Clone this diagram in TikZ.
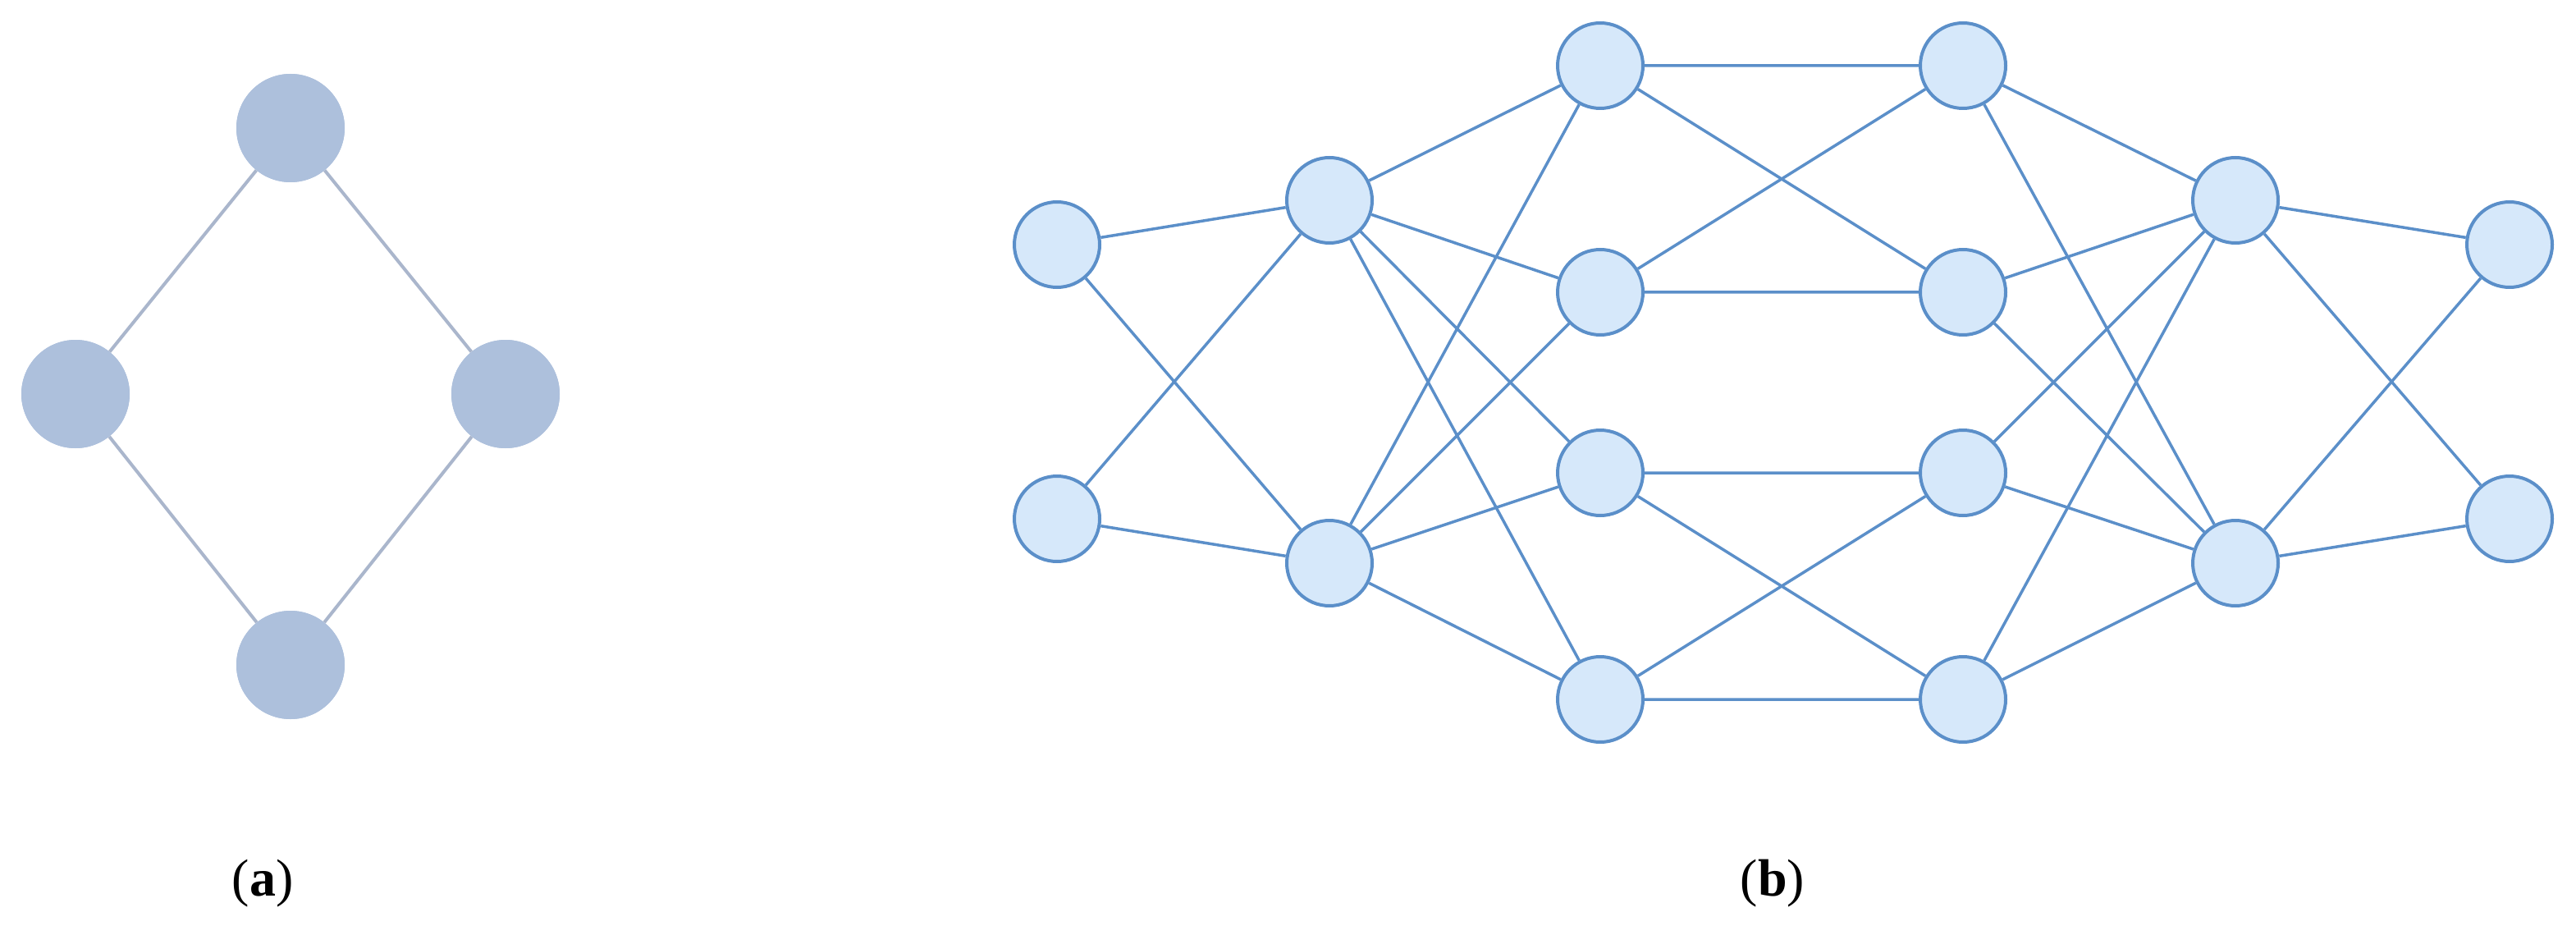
\documentclass[tikz,border=0pt]{standalone}
\usepackage{fontspec}
\setmainfont{Liberation Serif}
\definecolor{afill}{HTML}{ADC0DC}
\definecolor{aedge}{HTML}{AAB6CC}
\definecolor{bfill}{HTML}{D6E8FA}
\definecolor{bedge}{HTML}{5B8FC9}
\begin{document}
\begin{tikzpicture}[x=2pt,y=-2pt,
  anode/.style={circle,fill=afill,minimum size=132pt,inner sep=0pt},
  bnode/.style={circle,fill=bfill,draw=bedge,line width=4pt,minimum size=104pt,inner sep=0pt},
  aline/.style={aedge,line width=4pt},
  bline/.style={bedge,line width=3.5pt},
  lab/.style={font=\fontsize{64}{76}\selectfont}]
\useasboundingbox (0,0) rectangle (1569.5,569.5);
\node[anode] (at) at (177,78) {};
\node[anode] (al) at (46,240) {};
\node[anode] (ar) at (308,240) {};
\node[anode] (ab) at (177,405) {};
\begin{scope}[on background layer/.style={}]
\end{scope}
\draw[aline] (at) -- (al) (at) -- (ar) (ab) -- (al) (ab) -- (ar);
\node[anode] at (at) {};\node[anode] at (al) {};\node[anode] at (ar) {};\node[anode] at (ab) {};
% network b
\foreach \n/\x/\y in {a1/644/149,a2/644/316,b1/810/122,b2/810/343,
  c1/975/40,c2/975/178,c3/975/288,c4/975/426,
  d1/1196/40,d2/1196/178,d3/1196/288,d4/1196/426,
  e1/1362/122,e2/1362/343,f1/1529/149,f2/1529/316}
  \node[bnode] (\n) at (\x,\y) {};
\foreach \u in {a1,a2} \foreach \v in {b1,b2} \draw[bline] (\u) -- (\v);
\foreach \u in {b1,b2} \foreach \v in {c1,c2,c3,c4} \draw[bline] (\u) -- (\v);
\draw[bline] (c1)--(d1) (c1)--(d2) (c2)--(d1) (c2)--(d2) (c3)--(d3) (c3)--(d4) (c4)--(d3) (c4)--(d4);
\foreach \u in {d1,d2,d3,d4} \foreach \v in {e1,e2} \draw[bline] (\u) -- (\v);
\foreach \u in {e1,e2} \foreach \v in {f1,f2} \draw[bline] (\u) -- (\v);
\node[lab] (la) at (160,538) {(\textbf{a})};
\node[lab] (lb) at (1080,538) {(\textbf{b})};
\end{tikzpicture}
\end{document}
